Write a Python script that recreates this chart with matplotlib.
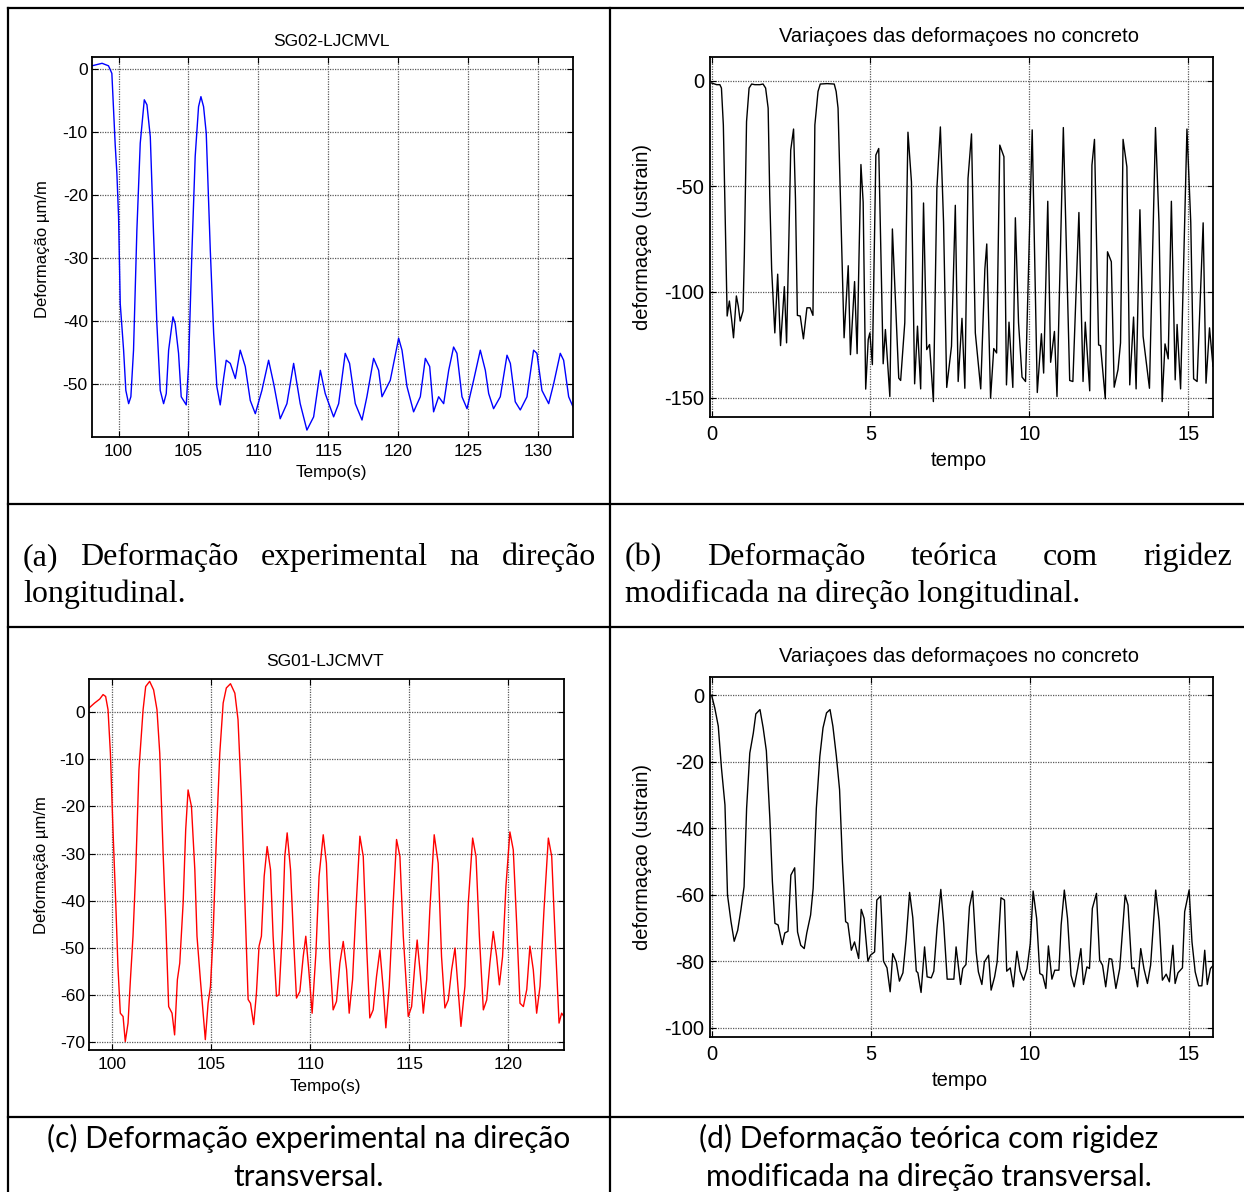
import matplotlib
matplotlib.use("Agg")
import matplotlib.pyplot as plt
from matplotlib.lines import Line2D

plt.rcParams['axes.unicode_minus'] = False
plt.rcParams['font.family'] = ['Liberation Sans', 'DejaVu Sans']

W, H = 1244, 1192

# (a) experimental, longitudinal (SG02-LJCMVL)
a_time = [98.1, 98.82, 99.28, 99.52, 99.76, 99.88, 100.0, 100.12, 100.36, 100.52,
          100.72, 100.88, 101.07, 101.31, 101.55, 101.84, 102.03, 102.27, 102.5, 102.74,
          102.98, 103.22, 103.41, 103.58, 103.89, 104.05, 104.29, 104.48, 104.84, 105.0,
          105.25, 105.48, 105.72, 105.89, 106.08, 106.27, 106.56, 106.8, 107.03, 107.27,
          107.51, 107.7, 107.99, 108.35, 108.7, 109.06, 109.42, 109.78, 110.25, 110.73,
          111.09, 111.56, 112.04, 112.52, 112.99, 113.47, 113.95, 114.43, 114.78, 115.38,
          115.74, 116.21, 116.52, 116.93, 117.41, 117.76, 118.24, 118.6, 118.84, 119.43,
          120.03, 120.27, 120.63, 121.1, 121.58, 121.94, 122.25, 122.53, 122.89, 123.25,
          123.61, 123.96, 124.2, 124.56, 124.92, 125.39, 125.87, 126.23, 126.47, 126.82,
          127.3, 127.78, 128.02, 128.37, 128.73, 129.21, 129.68, 129.92, 130.28, 130.76,
          131.12, 131.59, 131.83, 132.19, 132.5]
a_strain = [0.5, 0.9, 0.5, -0.7, -12.1, -16.6, -23.5, -37.3, -44.7, -51.1,
            -53.2, -52.1, -44.7, -25.6, -11.8, -4.9, -5.7, -10.8, -26.1, -40.5,
            -51.1, -53.2, -51.6, -44.7, -39.4, -40.5, -45.2, -52.1, -53.4, -47.3,
            -28.8, -13.9, -6.0, -4.4, -6.0, -10.2, -28.8, -42.0, -50.5, -53.4,
            -49.2, -46.3, -46.8, -49.2, -44.7, -47.3, -52.7, -54.8, -51.1, -46.3,
            -50.0, -55.6, -53.2, -46.8, -53.2, -57.4, -55.3, -47.9, -51.6, -55.3,
            -53.2, -45.2, -46.8, -53.2, -55.8, -52.1, -46.0, -47.9, -52.1, -49.5,
            -42.8, -44.7, -50.5, -54.5, -52.1, -46.0, -47.3, -54.5, -52.1, -53.2,
            -47.9, -44.2, -45.2, -52.1, -54.0, -49.5, -44.7, -47.9, -51.6, -54.0,
            -52.1, -45.5, -46.8, -52.9, -54.2, -52.1, -44.7, -45.2, -51.1, -53.2,
            -50.0, -45.2, -46.3, -52.1, -53.7]

# (b) theoretical, longitudinal
b_time = [0.0, 0.16, 0.26, 0.31, 0.37, 0.42, 0.49, 0.56, 0.63, 0.69,
          0.78, 0.84, 0.90, 0.99, 1.03, 1.10, 1.18, 1.26, 1.36, 1.52,
          1.62, 1.70, 1.78, 1.83, 1.89, 1.99, 2.08, 2.17, 2.29, 2.36,
          2.43, 2.49, 2.58, 2.64, 2.70, 2.79, 2.89, 3.00, 3.10, 3.19,
          3.25, 3.35, 3.42, 3.63, 3.86, 3.92, 3.98, 4.09, 4.17, 4.30,
          4.37, 4.50, 4.58, 4.64, 4.70, 4.77, 4.85, 4.93, 4.98, 5.06,
          5.17, 5.26, 5.40, 5.47, 5.61, 5.69, 5.77, 5.89, 5.95, 6.08,
          6.18, 6.29, 6.39, 6.48, 6.58, 6.67, 6.77, 6.86, 6.98, 7.09,
          7.20, 7.30, 7.40, 7.55, 7.67, 7.76, 7.88, 7.97, 8.07, 8.18,
          8.30, 8.47, 8.60, 8.66, 8.78, 8.88, 8.97, 9.07, 9.20, 9.28,
          9.36, 9.48, 9.56, 9.66, 9.77, 9.88, 10.09, 10.25, 10.38, 10.45,
          10.58, 10.67, 10.79, 10.87, 11.07, 11.27, 11.37, 11.56, 11.69, 11.76,
          11.90, 11.97, 12.05, 12.18, 12.24, 12.39, 12.46, 12.58, 12.67, 12.79,
          12.87, 12.95, 13.07, 13.16, 13.28, 13.36, 13.48, 13.58, 13.78, 13.97,
          14.08, 14.18, 14.27, 14.37, 14.47, 14.59, 14.65, 14.76, 14.96, 15.08,
          15.17, 15.28, 15.47, 15.56, 15.67, 15.78]
b_strain = [-1.1, -1.9, -1.9, -3.5, -21.0, -59.0, -111.4, -104.3, -113.0, -121.7,
            -101.9, -106.7, -113.8, -109.0, -82.9, -19.4, -3.5, -1.6, -1.9, -1.9,
            -1.6, -3.5, -13.0, -54.3, -89.2, -119.4, -91.6, -125.4, -97.5, -124.1,
            -76.5, -32.9, -22.9, -55.9, -111.1, -111.4, -122.2, -107.5, -107.5, -111.1,
            -21.0, -5.1, -1.6, -1.4, -1.6, -5.1, -13.0, -74.9, -121.7, -87.6,
            -129.7, -95.1, -129.2, -82.9, -39.7, -57.5, -146.0, -122.5, -119.4, -134.4,
            -35.2, -32.1, -134.0, -117.8, -149.5, -70.2, -98.7, -140.8, -141.9, -114.6,
            -24.4, -47.9, -143.5, -116.2, -145.9, -57.9, -127.3, -124.9, -151.9, -51.1,
            -21.9, -67.0, -145.2, -125.7, -59.0, -142.4, -112.5, -145.6, -46.3, -25.2,
            -119.4, -145.9, -89.2, -77.3, -150.3, -126.8, -128.9, -30.5, -36.0, -144.0,
            -114.3, -145.2, -64.9, -114.6, -140.3, -142.4, -23.3, -147.6, -119.8, -138.4,
            -57.1, -133.3, -118.7, -149.5, -22.2, -141.9, -142.4, -62.4, -142.4, -114.3,
            -146.8, -40.0, -27.8, -125.1, -125.4, -150.6, -81.0, -85.7, -145.1, -136.8,
            -124.1, -27.8, -40.8, -144.0, -111.9, -145.9, -61.1, -121.0, -145.6, -22.2,
            -67.0, -151.9, -124.6, -131.7, -57.1, -141.6, -115.4, -145.9, -22.9, -67.0,
            -141.1, -142.4, -67.3, -143.2, -117.0, -135.2]

# (c) experimental, transversal (SG01-LJCMVT)
c_time = [98.84, 99.12, 99.38, 99.55, 99.68, 99.80, 99.92, 100.05, 100.19, 100.30,
          100.42, 100.56, 100.67, 100.81, 100.93, 101.06, 101.20, 101.36, 101.57, 101.70,
          101.90, 102.10, 102.27, 102.41, 102.58, 102.71, 102.86, 103.03, 103.16, 103.30,
          103.42, 103.59, 103.72, 103.84, 104.01, 104.18, 104.29, 104.46, 104.60, 104.71,
          104.85, 104.97, 105.10, 105.27, 105.44, 105.61, 105.77, 105.98, 106.20, 106.36,
          106.53, 106.70, 106.87, 106.99, 107.15, 107.29, 107.42, 107.54, 107.68, 107.83,
          108.00, 108.13, 108.30, 108.43, 108.60, 108.72, 108.84, 109.01, 109.18, 109.31,
          109.48, 109.65, 109.78, 109.93, 110.10, 110.29, 110.45, 110.66, 110.82, 110.99,
          111.16, 111.33, 111.50, 111.67, 111.84, 111.97, 112.14, 112.31, 112.51, 112.68,
          112.85, 113.01, 113.18, 113.35, 113.52, 113.69, 113.82, 113.99, 114.19, 114.36,
          114.53, 114.70, 114.95, 115.12, 115.29, 115.40, 115.57, 115.71, 115.88, 116.04,
          116.26, 116.46, 116.63, 116.80, 116.97, 117.14, 117.31, 117.47, 117.61, 117.81,
          117.98, 118.20, 118.37, 118.54, 118.74, 118.91, 119.07, 119.24, 119.41, 119.55,
          119.71, 119.88, 120.08, 120.25, 120.42, 120.59, 120.76, 120.93, 121.09, 121.26,
          121.43, 121.60, 121.80, 122.02, 122.19, 122.36, 122.56, 122.69, 122.81]
c_strain = [0.85, 1.9, 2.75, 3.7, 3.3, 0.5, -8.7, -24.9, -40.5, -53.9,
            -63.8, -64.5, -69.8, -65.9, -56.7, -47.5, -33.4, -12.2, 0.5, 5.4,
            6.5, 4.7, 0.5, -8.7, -29.9, -44.0, -62.4, -63.8, -68.4, -56.7,
            -53.2, -40.5, -24.9, -16.5, -20.0, -33.4, -47.5, -56.7, -63.8, -69.4,
            -61.7, -58.1, -47.5, -26.3, -8.7, 1.9, 5.1, 6.0, 4.0, -1.6,
            -17.9, -39.1, -60.9, -61.7, -66.2, -59.5, -49.6, -47.5, -34.8, -28.5,
            -33.4, -47.5, -60.2, -59.9, -46.1, -30.6, -25.6, -33.4, -49.6, -60.6,
            -59.2, -51.8, -47.5, -54.6, -63.8, -51.1, -34.8, -26.0, -32.0, -51.8,
            -63.1, -61.3, -53.2, -48.6, -54.6, -63.8, -56.7, -41.9, -26.3, -30.6,
            -49.6, -64.8, -63.1, -56.0, -50.4, -58.8, -66.9, -58.1, -40.5, -27.0,
            -30.6, -47.5, -64.5, -62.4, -53.2, -48.3, -56.0, -63.8, -56.7, -41.9,
            -26.0, -32.0, -51.8, -62.7, -61.0, -54.6, -50.0, -58.8, -66.6, -58.1,
            -40.5, -26.7, -30.6, -47.5, -63.1, -61.0, -53.2, -46.5, -51.8, -57.8,
            -51.8, -36.9, -25.4, -29.2, -44.7, -61.7, -62.4, -58.8, -49.6, -54.6,
            -63.8, -58.1, -41.9, -26.7, -30.6, -47.5, -65.9, -63.8, -64.5]

# (d) theoretical, transversal
d_time = [0.0, 0.10, 0.21, 0.31, 0.42, 0.50, 0.61, 0.71, 0.82, 0.92,
          1.02, 1.10, 1.20, 1.31, 1.39, 1.52, 1.62, 1.72, 1.83, 1.91,
          1.99, 2.09, 2.22, 2.30, 2.40, 2.49, 2.61, 2.70, 2.80, 2.91,
          2.99, 3.11, 3.19, 3.29, 3.40, 3.50, 3.61, 3.72, 3.81, 3.92,
          4.02, 4.11, 4.21, 4.28, 4.39, 4.49, 4.62, 4.70, 4.79, 4.91,
          4.99, 5.12, 5.19, 5.31, 5.40, 5.51, 5.61, 5.69, 5.80, 5.90,
          6.01, 6.11, 6.22, 6.32, 6.43, 6.48, 6.58, 6.69, 6.77, 6.90,
          6.98, 7.08, 7.20, 7.29, 7.40, 7.61, 7.68, 7.82, 7.89, 7.99,
          8.10, 8.20, 8.31, 8.38, 8.49, 8.57, 8.70, 8.78, 8.89, 8.97,
          9.09, 9.20, 9.27, 9.38, 9.48, 9.59, 9.69, 9.80, 9.91, 10.01,
          10.10, 10.21, 10.31, 10.40, 10.50, 10.58, 10.69, 10.78, 10.91, 10.98,
          11.08, 11.18, 11.29, 11.39, 11.50, 11.60, 11.68, 11.79, 11.87, 11.96,
          12.09, 12.19, 12.28, 12.38, 12.49, 12.57, 12.70, 12.82, 12.99, 13.08,
          13.20, 13.27, 13.38, 13.48, 13.58, 13.69, 13.79, 13.95, 14.06, 14.16,
          14.28, 14.38, 14.49, 14.56, 14.65, 14.79, 14.86, 15.00, 15.09, 15.19,
          15.30, 15.40, 15.49, 15.57, 15.67, 15.76]
d_strain = [0.0, -3.8, -9.3, -21.9, -33.0, -60.1, -68.1, -74.0, -70.7, -64.6,
            -57.6, -34.0, -17.4, -11.4, -5.6, -4.3, -9.8, -16.7, -37.0, -56.1,
            -68.6, -69.1, -75.0, -71.5, -71.0, -54.1, -51.9, -71.2, -75.2, -76.2,
            -71.5, -66.1, -58.1, -34.0, -18.4, -9.8, -5.3, -4.3, -9.3, -18.4,
            -28.4, -50.1, -68.1, -68.6, -76.7, -74.2, -79.2, -64.4, -67.1, -80.0,
            -78.2, -77.2, -61.6, -60.4, -80.0, -82.0, -89.2, -77.7, -80.2, -86.0,
            -83.5, -73.5, -59.3, -66.9, -83.0, -83.5, -89.4, -75.7, -84.7, -85.0,
            -83.0, -70.2, -58.4, -68.6, -85.4, -85.4, -75.7, -87.0, -82.2, -81.0,
            -63.6, -58.9, -77.2, -83.2, -87.0, -80.2, -78.2, -88.7, -84.7, -80.2,
            -60.9, -61.6, -83.0, -82.0, -87.7, -77.0, -83.0, -85.7, -82.2, -74.7,
            -58.9, -67.1, -83.7, -84.2, -88.2, -75.4, -85.4, -82.7, -82.7, -69.1,
            -58.6, -67.1, -84.2, -87.7, -82.2, -76.2, -87.0, -81.7, -82.2, -64.1,
            -59.6, -79.7, -81.2, -87.7, -79.2, -79.4, -88.2, -82.2, -60.1, -63.1,
            -82.2, -82.0, -87.7, -76.2, -82.2, -86.7, -81.2, -58.6, -68.1, -85.7,
            -83.9, -86.2, -75.2, -86.7, -83.5, -82.0, -65.1, -58.6, -74.2, -83.2,
            -87.4, -87.4, -76.7, -87.0, -82.2, -81.2]

exp_ticks_a = [100, 105, 110, 115, 120, 125, 130]
exp_ticks_c = [100, 105, 110, 115, 120]
teo_ticks = [0, 5, 10, 15]

fig = plt.figure(figsize=(W / 100, H / 100), dpi=100)


def px_box(x0, y0, x1, y1):
    return [x0 / W, 1 - y1 / H, (x1 - x0) / W, (y1 - y0) / H]


def ftext(x, y, s, **kw):
    return fig.text(x / W, 1 - y / H, s, **kw)


def style(ax, size, xpad, ypad):
    # matlab look: dotted grid, ticks inside on all four sides
    ax.grid(True, color='#5a5a5a', linestyle=(0, (1, 1)), linewidth=0.9)
    ax.tick_params(direction='in', top=True, right=True, length=4, width=0.8,
                   labelsize=size)
    ax.tick_params(axis='x', pad=xpad)
    ax.tick_params(axis='y', pad=ypad)
    for s in ax.spines.values():
        s.set_linewidth(1.3)


# (a)
ax = fig.add_axes(px_box(92, 57, 573, 437))
ax.plot(a_time, a_strain, color='#0000ff', linewidth=1.0)
ax.set_xlim(98.1, 132.5)
ax.set_ylim(-58.5, 1.9)
ax.set_xticks(exp_ticks_a)
ax.set_yticks([-50, -40, -30, -20, -10, 0])
style(ax, 12.5, 5, 3)
ftext(331, 41, 'SG02-LJCMVL', ha='center', va='center', fontsize=12.5)
ftext(331, 473, 'Tempo(s)', ha='center', va='center', fontsize=12.3)
ftext(43, 249, 'Deformação µm/m', ha='center', va='center', rotation=90, fontsize=12)

# (b)
ax = fig.add_axes(px_box(710, 57, 1213, 417))
ax.plot(b_time, b_strain, color='black', linewidth=1.0)
ax.set_xlim(-0.05, 15.78)
ax.set_ylim(-159.2, 11.2)
ax.set_xticks(teo_ticks)
ax.set_yticks([-150, -100, -50, 0])
style(ax, 14.5, 6, 4)
ftext(959, 36, 'Variaçoes das deformaçoes no concreto', ha='center', va='center', fontsize=14.5)
ftext(959, 461, 'tempo', ha='center', va='center', fontsize=14.5)
ftext(643, 237, 'deformaçao (ustrain)', ha='center', va='center', rotation=90, fontsize=14.5)

# (c)
ax = fig.add_axes(px_box(89, 679, 564, 1050))
ax.plot(c_time, c_strain, color='#ff0000', linewidth=1.0)
ax.set_xlim(98.84, 122.81)
ax.set_ylim(-71.6, 7.0)
ax.set_xticks(exp_ticks_c)
ax.set_yticks([-70, -60, -50, -40, -30, -20, -10, 0])
style(ax, 12.5, 5, 3)
ftext(325, 661, 'SG01-LJCMVT', ha='center', va='center', fontsize=12.5)
ftext(325, 1086, 'Tempo(s)', ha='center', va='center', fontsize=12.3)
ftext(42, 865, 'Deformação µm/m', ha='center', va='center', rotation=90, fontsize=12)

# (d)
ax = fig.add_axes(px_box(710, 677, 1213, 1037))
ax.plot(d_time, d_strain, color='black', linewidth=1.0)
ax.set_xlim(-0.05, 15.75)
ax.set_ylim(-102.8, 5.5)
ax.set_xticks(teo_ticks)
ax.set_yticks([-100, -80, -60, -40, -20, 0])
style(ax, 14.5, 6, 4)
ftext(959, 656, 'Variaçoes das deformaçoes no concreto', ha='center', va='center', fontsize=14.5)
ftext(960, 1080, 'tempo', ha='center', va='center', fontsize=14.5)
ftext(643, 857, 'deformaçao (ustrain)', ha='center', va='center', rotation=90, fontsize=14.5)

# table borders
for x0, y0, x1, y1 in [(8, 8, 1244, 8), (8, 504, 1244, 504), (8, 627, 1244, 627),
                       (8, 1117, 1244, 1117), (8, 8, 8, 1192), (610, 8, 610, 1192)]:
    fig.add_artist(Line2D([x0 / W, x1 / W], [1 - y0 / H, 1 - y1 / H],
                          transform=fig.transFigure, color='black', linewidth=1.6))

renderer = fig.canvas.get_renderer()


def justify(line, x0, x1, y, **kw):
    words = line.split()
    texts = [ftext(0, y, w, ha='left', va='baseline', **kw) for w in words]
    widths = [t.get_window_extent(renderer).width for t in texts]
    gap = (x1 - x0 - sum(widths)) / (len(words) - 1)
    x = x0
    for t, w in zip(texts, widths):
        t.set_x(x / W)
        x += w + gap


serif = dict(family=['Liberation Serif', 'DejaVu Serif'], fontsize=23)
justify('(a) Deformação experimental na direção', 23, 596, 565, **serif)
ftext(23, 602, 'longitudinal.', ha='left', va='baseline', **serif)
justify('(b) Deformação teórica com rigidez', 625, 1232, 565, **serif)
ftext(625, 602, 'modificada na direção longitudinal.', ha='left', va='baseline', **serif)

# sans captions, sized to the width of the first line
sans = ['Lato', 'DejaVu Sans']
probe = ftext(0, 0, '(c) Deformação experimental na direção', family=sans, fontsize=20)
cap_size = 20 * 523 / probe.get_window_extent(renderer).width
probe.remove()
ftext(309, 1148, '(c) Deformação experimental na direção', ha='center', va='baseline',
      family=sans, fontsize=cap_size)
ftext(309, 1186, 'transversal.', ha='center', va='baseline', family=sans, fontsize=cap_size)
ftext(929, 1148, '(d) Deformação teórica com rigidez', ha='center', va='baseline',
      family=sans, fontsize=cap_size)
ftext(929, 1186, 'modificada na direção transversal.', ha='center', va='baseline',
      family=sans, fontsize=cap_size)

fig.savefig('out.png', dpi=100)
